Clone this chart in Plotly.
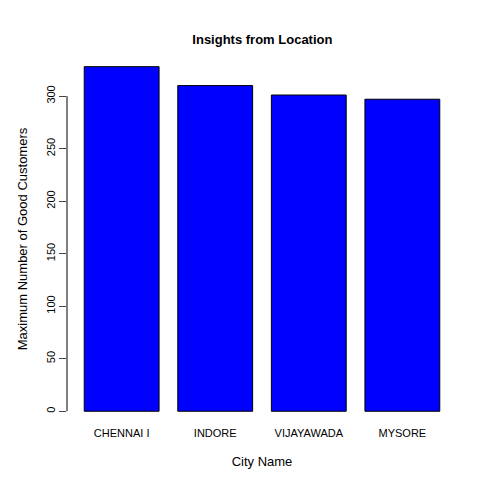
import plotly.graph_objects as go

cities = ["CHENNAI I", "INDORE", "VIJAYAWADA", "MYSORE"]
good_customers = [328, 310, 301, 297]
y_ticks = [0, 50, 100, 150, 200, 250, 300]

fig = go.Figure(go.Bar(x=cities, y=good_customers, marker=dict(color="blue", line=dict(color="black", width=1))))
fig.update_layout(
    width=480, height=480, plot_bgcolor="white", paper_bgcolor="white",
    font=dict(family="Liberation Sans, Arial", size=11, color="black"),
    margin=dict(l=59, r=31, t=45, b=63), bargap=0.2, showlegend=False,
    title=dict(text="<b>Insights from Location</b>", x=0.53, xanchor="center", y=0.935, yanchor="middle", font=dict(size=13)),
)
fig.update_xaxes(range=[-0.584, 3.584], showline=False, ticks="", showgrid=False, automargin=False,
                 title=dict(text="City Name", standoff=18), tickfont=dict(size=11))
fig.update_yaxes(range=[-13.1, 341], tickvals=y_ticks, ticks="outside", ticklen=7, tickangle=-90,
                 showgrid=False, zeroline=False, showline=False, automargin=False,
                 title=dict(text="Maximum Number of Good Customers", standoff=14))
fig.add_shape(type="line", xref="paper", yref="y", x0=0, x1=0, y0=0, y1=300, line=dict(color="black", width=1))
fig.write_html("out.html")
